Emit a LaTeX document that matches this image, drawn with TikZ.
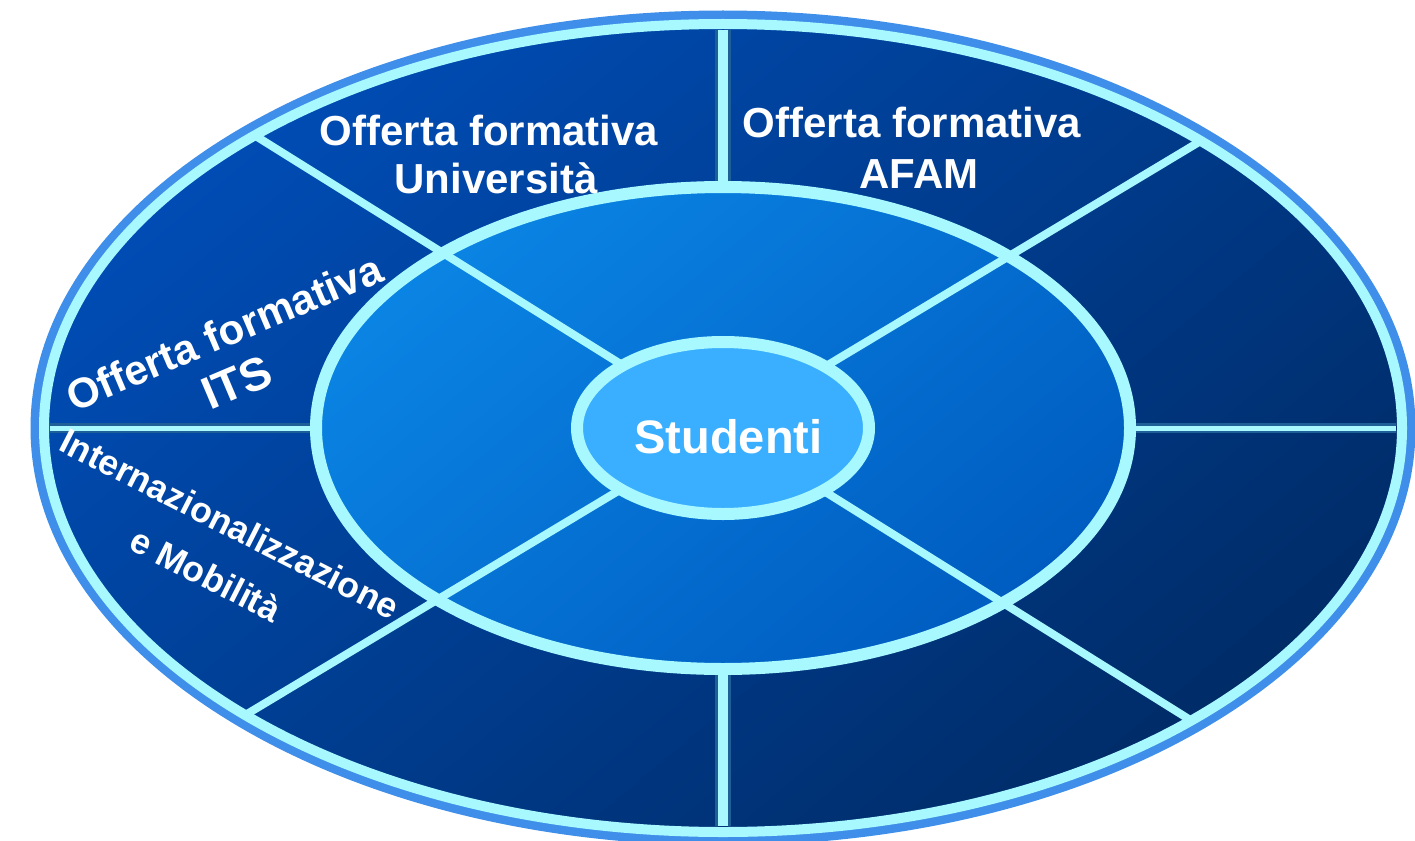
\documentclass[tikz,border=0pt]{standalone}
\usepackage{fontspec}
\setmainfont{Liberation Sans}
\usetikzlibrary{shapes.geometric}

\definecolor{ringline}{HTML}{A8F8FF}
\definecolor{halo}{HTML}{3F8FEA}
\definecolor{outerlight}{HTML}{004CB4}
\definecolor{outerdark}{HTML}{002C68}
\definecolor{midlight}{HTML}{0A84E4}
\definecolor{middark}{HTML}{005CC0}
\definecolor{core}{HTML}{3AAEFF}
\definecolor{lineedge}{HTML}{1D5F96}

\tikzset{
    disc/.style={ellipse, inner sep=0pt, outer sep=0pt, draw=ringline},
    spoke/.style={ringline, line width=8pt},
    divider/.style={draw=lineedge, line width=3pt, double=ringline, shorten >=6pt, shorten <=6pt},
    sectortext/.style={text=white, anchor=base, inner sep=0pt, font=\bfseries\fontsize{42}{50}\selectfont}
}

\begin{document}
\begin{tikzpicture}[x=1pt, y=-1pt]
    \useasboundingbox (0,0) rectangle (1415,840);

    % Drawing the three discs
    \draw[halo, line width=9pt] (723,428) ellipse [x radius=688, y radius=413];
    \node[disc, line width=10pt, minimum width=1358pt, minimum height=808pt,
          top color=outerlight, bottom color=outerdark, shading angle=40] (outer) at (723,428) {};
    \node[disc, line width=12pt, minimum width=814pt, minimum height=482pt,
          top color=midlight, bottom color=middark, shading angle=40] (middle) at (723,428) {};
    \node[disc, line width=12pt, minimum width=292pt, minimum height=172pt, fill=core] (inner) at (723,428) {};

    % Adding the spokes
    \foreach \a in {31.5,148.5,211.5,328.5}
        \draw[spoke] (inner.\a) -- (outer.\a);
    \draw[divider, double distance=10pt] (outer.90) -- (middle.90);
    \draw[divider, double distance=10pt] (middle.270) -- (outer.270);
    \draw[divider, line width=2.5pt, double distance=5pt] (outer.180) -- (middle.180);
    \draw[divider, line width=2.5pt, double distance=5pt] (middle.0) -- (outer.0);

    % Adding labels
    \node[sectortext] (uni1) at (489,145) {Offerta formativa};
    \node[sectortext] (uni2) at (496,193) {Università};
    \node[sectortext] (afam1) at (912,137) {Offerta formativa};
    \node[sectortext] (afam2) at (919,188) {AFAM};
    \node[sectortext, rotate=23] (its1) at (230,346) {Offerta formativa};
    \node[sectortext, rotate=23, font=\bfseries\fontsize{46}{50}\selectfont] (its2) at (243,397) {ITS};
    \node[sectortext, rotate=-27, font=\bfseries\fontsize{35.5}{44}\selectfont] (int1) at (224,535) {Internazionalizzazione};
    \node[sectortext, rotate=-27, font=\bfseries\fontsize{35.5}{44}\selectfont] (int2) at (200,586) {e Mobilità};
    \node[sectortext, font=\bfseries\fontsize{47}{50}\selectfont] (studenti) at (728.5,453) {Studenti};
\end{tikzpicture}
\end{document}
